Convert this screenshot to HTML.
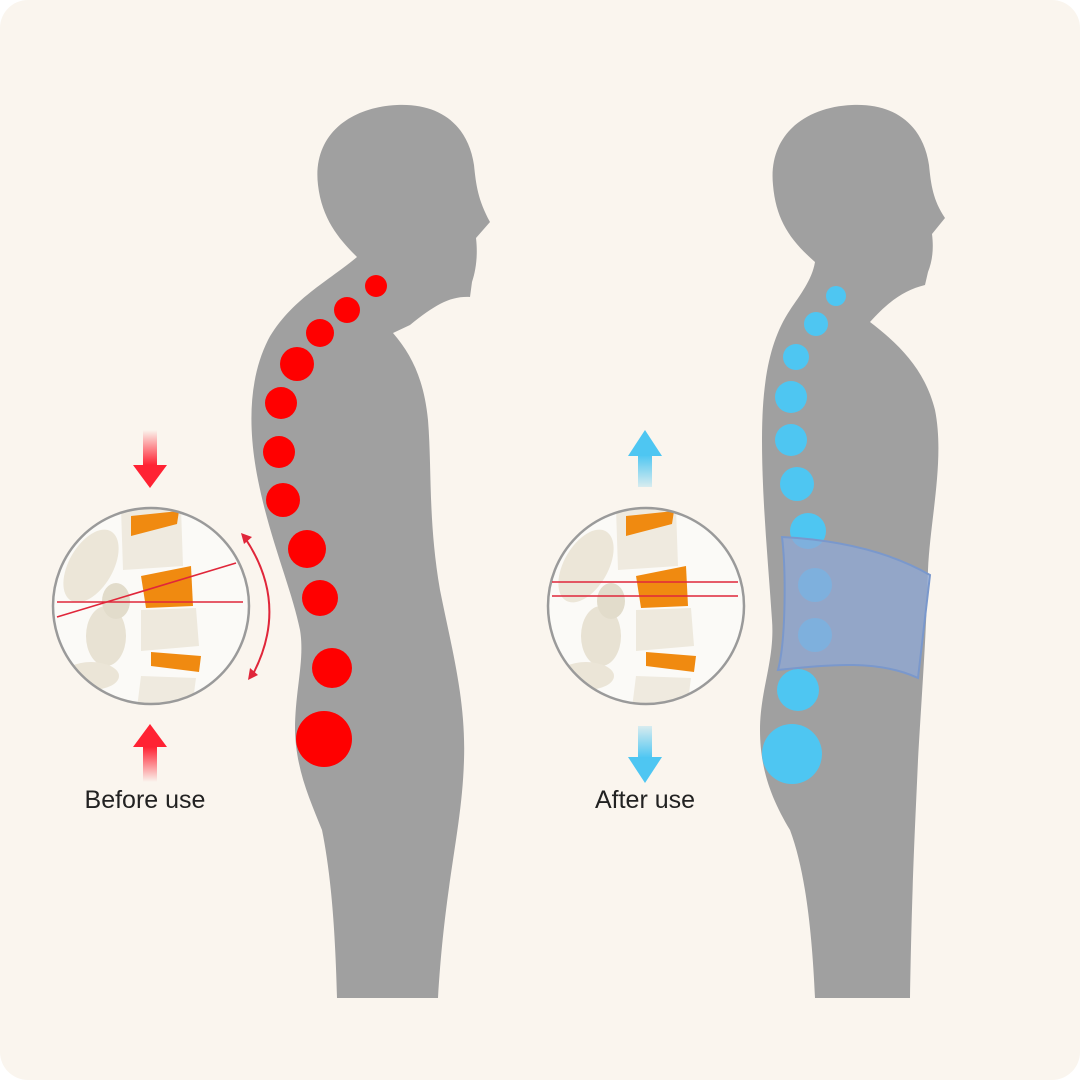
<!DOCTYPE html>
<html><head><meta charset="utf-8"><style>
html,body{margin:0;padding:0;background:#fff;}
#c{position:relative;width:1080px;height:1080px;}
svg{position:absolute;left:0;top:0}
</style></head><body><div id="c">
<svg width="1080" height="1080" viewBox="0 0 1080 1080" xmlns="http://www.w3.org/2000/svg">
<defs>
<linearGradient id="rd" x1="0" y1="0" x2="0" y2="1"><stop offset="0" stop-color="#f23" stop-opacity="0"/><stop offset="1" stop-color="#f23"/></linearGradient>
<linearGradient id="ru" x1="0" y1="1" x2="0" y2="0"><stop offset="0" stop-color="#f23" stop-opacity="0"/><stop offset="1" stop-color="#f23"/></linearGradient>
<linearGradient id="bd" x1="0" y1="0" x2="0" y2="1"><stop offset="0" stop-color="#4ec6f2" stop-opacity="0.2"/><stop offset="1" stop-color="#4ec6f2"/></linearGradient>
<linearGradient id="bu" x1="0" y1="1" x2="0" y2="0"><stop offset="0" stop-color="#4ec6f2" stop-opacity="0.2"/><stop offset="1" stop-color="#4ec6f2"/></linearGradient>
<clipPath id="cl1"><circle cx="151" cy="606" r="98"/></clipPath>
<clipPath id="cl2"><circle cx="646" cy="606" r="98"/></clipPath>
<g id="spine">
<rect x="-110" y="-110" width="220" height="220" fill="#fbfaf7"/>
<path d="M-30,-98 L30,-98 L32,-40 L-28,-36 Z" fill="#efeadf"/>
<path d="M-20,-90 L28,-95 L26,-82 L-20,-70Z" fill="#f08a10"/>
<path d="M-10,-30 L40,-40 L42,0 L-5,2Z" fill="#f08a10"/>
<path d="M-10,4 L45,2 L48,40 L-10,45Z" fill="#eee9dd"/>
<path d="M0,46 L50,50 L48,66 L0,60Z" fill="#f08a10"/>
<ellipse cx="-60" cy="-40" rx="22" ry="40" fill="#ece6d8" transform="rotate(30 -60 -40)"/>
<ellipse cx="-45" cy="30" rx="20" ry="30" fill="#e8e2d3"/>
<ellipse cx="-60" cy="70" rx="28" ry="14" fill="#ebe5d7"/>
<ellipse cx="-35" cy="-5" rx="14" ry="18" fill="#e2dccb"/>
<path d="M-10,70 L45,72 L40,110 L-15,110Z" fill="#efeadf"/>
</g>
</defs>
<rect x="0" y="0" width="1080" height="1080" rx="28" fill="#faf5ee"/>
<path d="M397,105 C440,103 468,125 474,165 C476,185 478,200 490,222 L476,238 C478,255 476,270 472,282 L470,297 C450,296 435,305 410,325 L393,333 C412,355 424,380 428,420 C432,470 428,520 440,590 C452,650 466,700 464,760 C462,830 445,880 438,998 L337,998 C335,920 330,870 322,830 C310,800 296,770 295,730 C295,690 305,660 300,630 C292,590 270,540 258,480 C248,430 248,380 268,340 C290,300 330,280 357,257 C340,240 322,220 318,185 C312,135 350,107 397,105 Z" fill="#a0a0a0"/>
<g fill="#ff0000">
<circle cx="376" cy="286" r="11"/><circle cx="347" cy="310" r="13"/><circle cx="320" cy="333" r="14"/><circle cx="297" cy="364" r="17"/><circle cx="281" cy="403" r="16"/><circle cx="279" cy="452" r="16"/><circle cx="283" cy="500" r="17"/><circle cx="307" cy="549" r="19"/><circle cx="320" cy="598" r="18"/><circle cx="332" cy="668" r="20"/><circle cx="324" cy="739" r="28"/>
</g>
<path d="M852,105 C895,103 923,125 929,165 C931,185 933,200 945,218 L932,234 C934,250 932,262 928,272 L925,285 C905,290 890,300 870,322 C900,345 925,370 935,410 C945,460 930,520 928,570 C926,640 922,690 918,760 C915,830 912,880 910,998 L815,998 C812,930 805,870 790,830 C772,800 760,770 760,730 C760,690 775,660 772,620 C768,560 762,500 762,440 C762,380 770,340 790,310 C800,295 812,280 815,262 C790,240 776,220 773,185 C768,135 805,107 852,105 Z" fill="#a0a0a0"/>
<g fill="#4ec6f2">
<circle cx="836" cy="296" r="10"/><circle cx="816" cy="324" r="12"/><circle cx="796" cy="357" r="13"/><circle cx="791" cy="397" r="16"/><circle cx="791" cy="440" r="16"/><circle cx="797" cy="484" r="17"/><circle cx="808" cy="531" r="18"/><circle cx="815" cy="585" r="17"/><circle cx="815" cy="635" r="17"/><circle cx="798" cy="690" r="21"/><circle cx="792" cy="754" r="30"/>
</g>
<path d="M782,537 C840,540 890,552 930,575 L918,678 C880,660 830,664 778,670 C786,640 786,570 782,537Z" fill="#8fa8d6" fill-opacity="0.75" stroke="#7a98cc" stroke-width="2"/>
<g clip-path="url(#cl1)"><use href="#spine" transform="translate(151,606)"/></g>
<circle cx="151" cy="606" r="98" fill="none" stroke="#9a9a9a" stroke-width="2.5"/>
<line x1="57" y1="602" x2="243" y2="602" stroke="#e0263a" stroke-width="1.6"/>
<line x1="57" y1="617" x2="236" y2="563" stroke="#e0263a" stroke-width="1.6"/>
<g clip-path="url(#cl2)"><use href="#spine" transform="translate(646,606)"/></g>
<circle cx="646" cy="606" r="98" fill="none" stroke="#9a9a9a" stroke-width="2.5"/>
<line x1="552" y1="582" x2="738" y2="582" stroke="#e0263a" stroke-width="1.6"/>
<line x1="552" y1="596" x2="738" y2="596" stroke="#e0263a" stroke-width="1.6"/>
<path d="M245,538 Q290,605 252,676" fill="none" stroke="#e0263a" stroke-width="2"/>
<path d="M241,533 L252,537 L244,544Z M248,680 L250,668 L258,675Z" fill="#e0263a"/>
<rect x="143" y="430" width="14" height="35" fill="url(#rd)"/><path d="M133,465 L167,465 L150,488Z" fill="#f23"/>
<rect x="143" y="747" width="14" height="35" fill="url(#ru)"/><path d="M133,747 L167,747 L150,724Z" fill="#f23"/>
<rect x="638" y="455" width="14" height="32" fill="url(#bu)"/><path d="M628,456 L662,456 L645,430Z" fill="#4ec6f2"/>
<rect x="638" y="726" width="14" height="32" fill="url(#bd)"/><path d="M628,757 L662,757 L645,783Z" fill="#4ec6f2"/>
<text x="145" y="808" text-anchor="middle" font-family="Liberation Sans, sans-serif" font-size="25" fill="#222">Before use</text>
<text x="645" y="808" text-anchor="middle" font-family="Liberation Sans, sans-serif" font-size="25" fill="#222">After use</text>
</svg>
</div></body></html>
